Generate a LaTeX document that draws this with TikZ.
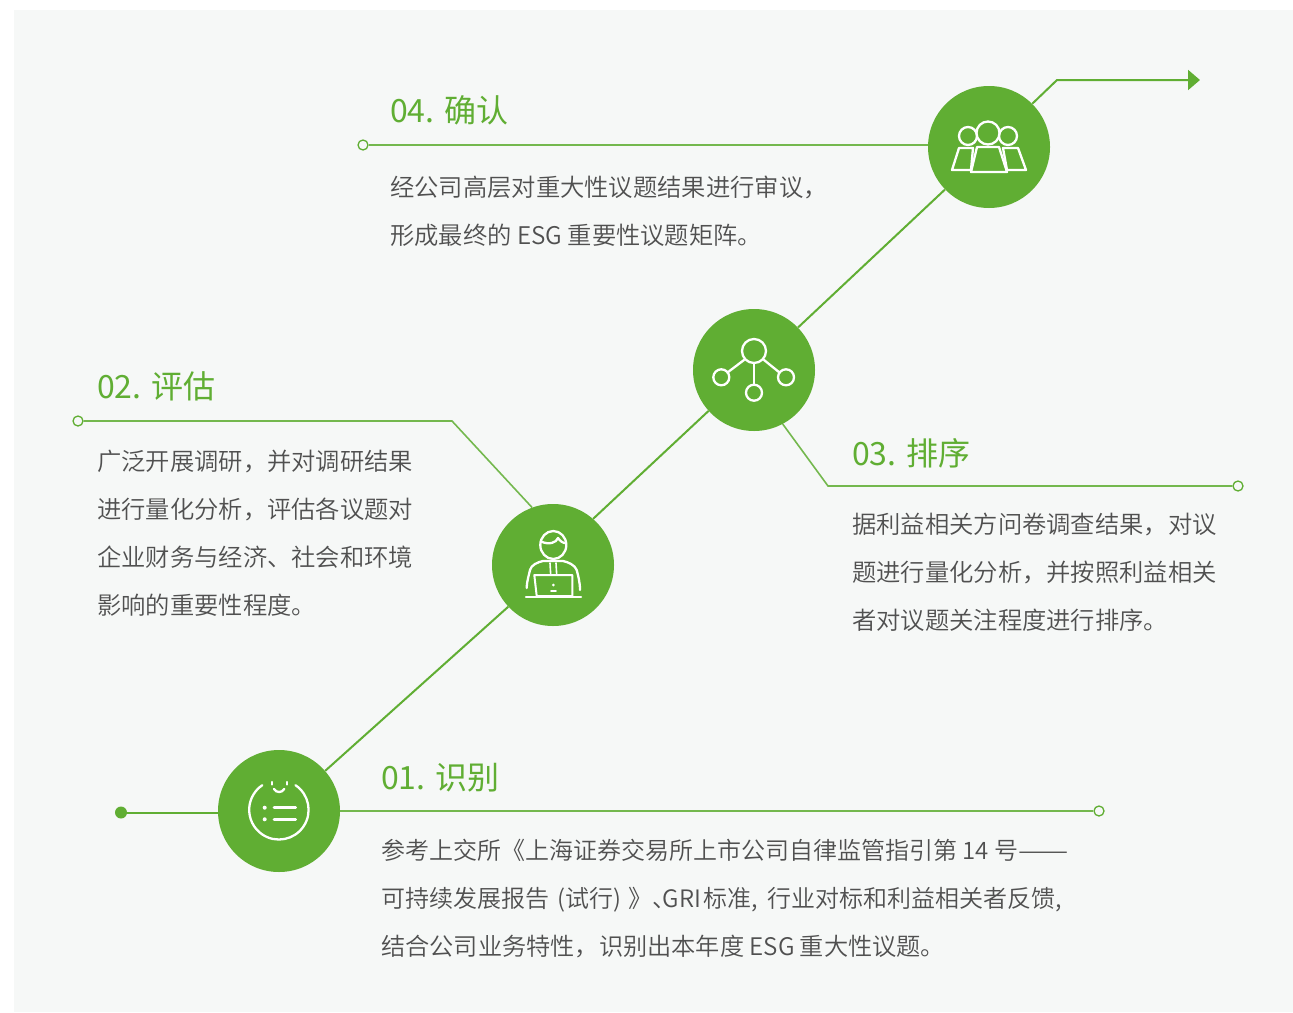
\documentclass[tikz,border=0pt]{standalone}
\usepackage{fontspec}
\setmainfont{Noto Sans CJK SC DemiLight}
\newfontfamily\ttlfont{Noto Sans CJK SC}
\usetikzlibrary{arrows.meta}
\definecolor{esg}{HTML}{60AE33}
\definecolor{hline}{HTML}{74B84E}
\definecolor{panel}{HTML}{F6F8F7}
\definecolor{bodytext}{HTML}{505050}
\tikzset{
  hub/.style={circle,fill=esg,minimum size=122pt,inner sep=0pt},
  ttl/.style={anchor=base west,inner sep=0pt,text=esg,font=\ttlfont\fontsize{32pt}{32pt}\selectfont},
  txt/.style={anchor=base west,inner sep=0pt,text=bodytext,font=\fontsize{24.3pt}{24.3pt}\selectfont},
  txtb/.style={txt,font=\fontsize{24pt}{24pt}\selectfont},
  txtc/.style={txt,font=\fontsize{24.2pt}{24.2pt}\selectfont},
  conn/.style={draw=esg,line width=2pt},
  rule/.style={draw=hline,line width=1.6pt},
  opendot/.style={circle,draw=esg,fill=panel,line width=1.3pt,minimum size=10pt,inner sep=0pt},
  soliddot/.style={circle,fill=esg,minimum size=12pt,inner sep=0pt},
  ico/.style={draw=white,line width=2.3pt,line cap=round,line join=round},
}
\begin{document}
\begin{tikzpicture}[x=1pt,y=-1pt]
\useasboundingbox (0,0) rectangle (1293,1012);
\fill[panel] (14,10) rectangle (1293,1012);
% hubs
\node[hub] (c1) at (279,811) {};
\node[hub] (c2) at (553,565) {};
\node[hub] (c3) at (754,370) {};
\node[hub] (c4) at (989,147) {};
% end points
\node[soliddot] (d1) at (121,812.5) {};
\node[opendot] (e1) at (1099,811) {};
\node[opendot] (d2) at (78,421) {};
\node[opendot] (d3) at (1238,486) {};
\node[opendot] (d4) at (363,145) {};
\coordinate (k2) at (452,421);
\coordinate (k3) at (828,486);
\coordinate (k4) at (1057,80);
\coordinate (tip) at (1200,80);
% connectors
\draw[conn] (c1.41) -- (c2.-137);
\draw[conn] (c2.49) -- (c3.-138);
\draw[conn] (c3.44) -- (c4.-136);
\draw[conn,-{Triangle[length=12pt,width=20pt]}] (c4.45) -- (k4) -- (tip);
\draw[conn] (d1) -- (d1 -| c1.west);
\draw[rule] (c1.east |- e1) -- (e1);
\draw[rule] (d2) -- (k2) -- (c2.110);
\draw[rule] (c3.-62) -- (k3) -- (d3);
\draw[rule] (d4) -- (d4 -| c4.west);
% titles and texts
\node[ttl] (t4) at (390,122) {04. 确认};
\node[txt] (t4a) at (390,196) {经公司高层对重大性议题结果进行审议，};
\node[txt] (t4b) at (390,244) {形成最终的 ESG 重要性议题矩阵。};
\node[ttl] (t2) at (97,398) {02. 评估};
\node[txt] (t2a) at (97,470) {广泛开展调研，并对调研结果};
\node[txt] (t2b) at (97,518) {进行量化分析，评估各议题对};
\node[txt] (t2c) at (97,566) {企业财务与经济、社会和环境};
\node[txt] (t2d) at (97,614) {影响的重要性程度。};
\node[ttl] (t3) at (852,465) {03. 排序};
\node[txt] (t3a) at (852,533) {据利益相关方问卷调查结果，对议};
\node[txt] (t3b) at (852,581) {题进行量化分析，并按照利益相关};
\node[txt] (t3c) at (852,629) {者对议题关注程度进行排序。};
\node[ttl] (t1) at (381,789) {01. 识别};
\node[txtb] (t1a) at (381,859) {参考上交所《上海证券交易所上市公司自律监管指引第 14 号\scalebox{1.25}[1]{——}};
\node[txtb] (t1b) at (381,907) {可持续发展报告\kern3pt{} (试行) \kern2pt》、\kern-14pt GRI\kern-3pt{} 标准,\kern4pt{} 行业对标和利益相关者反馈,};
\node[txtc] (t1c) at (381,955) {结合公司业务特性，识别出本年度 ESG 重大性议题。};
% icon 4: people
\draw[ico] (968,136) circle (9);
\draw[ico] (1008,136) circle (9);
\draw[ico,fill=esg] (988,133) circle (11.5);
\draw[ico,fill=esg] (959,148) -- (973,148) -- (971,170) -- (952,170) -- cycle;
\draw[ico,fill=esg] (1003,148) -- (1018,148) -- (1026,170) -- (1007,170) -- cycle;
\draw[ico,fill=esg] (977,147) -- (999,147) -- (1007,172) -- (971,172) -- cycle;
% icon 3: network
\draw[ico] (754,351) circle (12);
\draw[ico] (721.3,377.3) circle (8);
\draw[ico] (786,377.3) circle (8);
\draw[ico] (754,392.7) circle (8);
\draw[ico] (744,360) -- (727.5,372.5);
\draw[ico] (764,360) -- (779.5,372.5);
\draw[ico] (754,363) -- (754,384.7);
% icon 2: person with laptop
\draw[ico] (553.3,545) ellipse (13 and 14);
\draw[ico] (541,541.5) .. controls (549,545) and (556,543) .. (558,538) .. controls (560,541) and (563,543) .. (565,543);
\draw[ico] (526.7,588) .. controls (527,580) and (529,575) .. (530,570) .. controls (531,565) and (538,562) .. (543,561) -- (563,561) .. controls (568,562) and (575,565) .. (576.7,570) .. controls (578,575) and (580,582) .. (580,590);
\draw[ico,line width=2pt] (534.3,575) -- (572.3,575) -- (572.3,596) -- (536.7,596) -- cycle;
\draw[ico] (526,597.3) -- (581,597.3);
\draw[ico,line width=1.6pt] (550,563) -- (550.7,575);
\draw[ico,line width=1.6pt] (556,563) -- (556.7,575);
\fill[white] (553.3,585) circle (1.5);
\draw[ico,line width=1.6pt] (551,590.7) -- (556,590.7);
% icon 1: list
\draw[ico] (295.5,785.2) arc[start angle=-56,end angle=236,x radius=29.7,y radius=29.7];
\draw[ico] (271.7,782) -- (271.7,784.5);
\draw[ico] (287,782) -- (287,784.5);
\draw[ico] (274,789) .. controls (276,793) and (282,793) .. (284.3,789);
\draw[ico,line width=2.6pt] (274,807.7) -- (295.7,807.7);
\draw[ico,line width=2.6pt] (274,819.3) -- (295.7,819.3);
\fill[white] (264.7,807.7) circle (2);
\fill[white] (264.7,819.3) circle (2);
\end{tikzpicture}
\end{document}
